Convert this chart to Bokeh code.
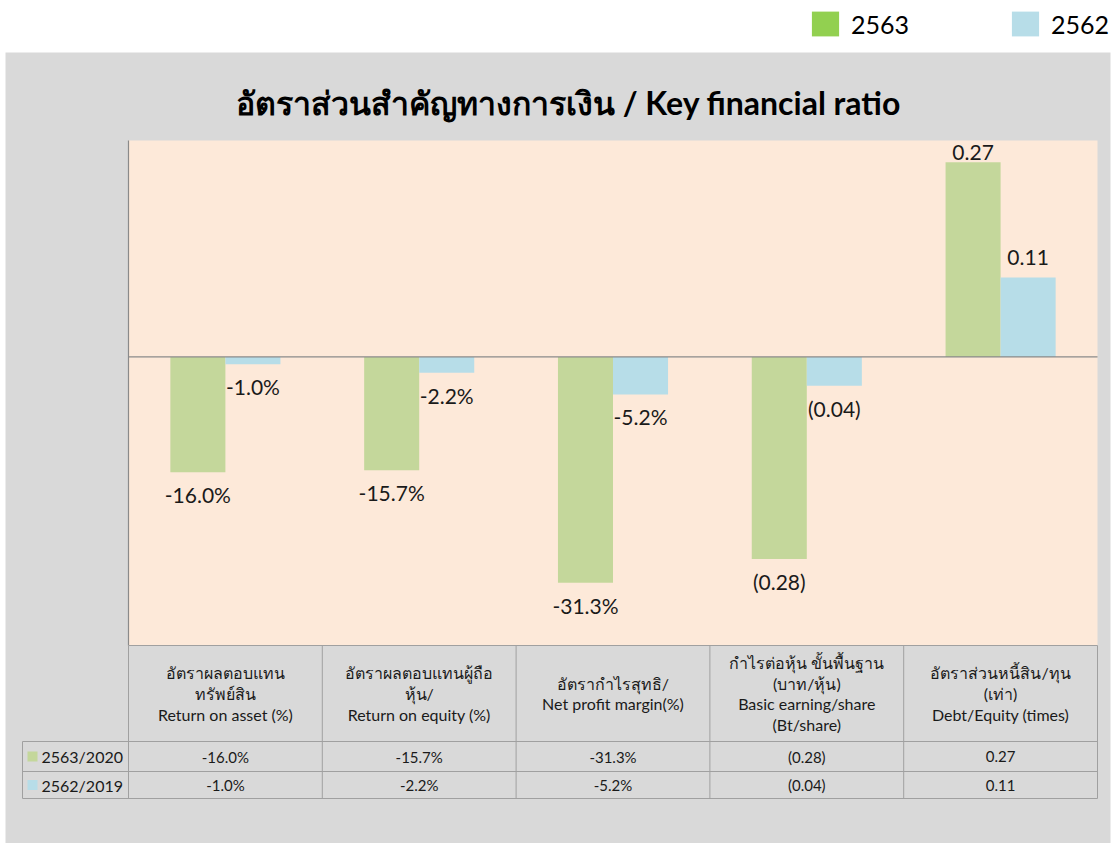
from bokeh.plotting import figure
from bokeh.models import Range1d, Legend, LegendItem, ColumnDataSource
from bokeh.embed import file_html
from bokeh.resources import INLINE
from bokeh.core.properties import value
import numpy as np

# ---------------- data ----------------
header_labels = [
    "อัตราผลตอบแทน\nทรัพย์สิน\nReturn on asset (%)",
    "อัตราผลตอบแทนผู้ถือ\nหุ้น/\nReturn on equity (%)",
    "อัตรากำไรสุทธิ/\nNet profit margin(%)",
    "กำไรต่อหุ้น ขั้นพื้นฐาน\n(บาท/หุ้น)\nBasic earning/share\n(Bt/share)",
    "อัตราส่วนหนี้สิน/ทุน\n(เท่า)\nDebt/Equity (times)",
]
legend_names = ["2563", "2562"]
row_names = ["2563/2020", "2562/2019"]
vals_2563 = [-0.160, -0.157, -0.313, -0.28, 0.27]
vals_2562 = [-0.010, -0.022, -0.052, -0.04, 0.11]
labels_2563 = ["-16.0%", "-15.7%", "-31.3%", "(0.28)", "0.27"]
labels_2562 = ["-1.0%", "-2.2%", "-5.2%", "(0.04)", "0.11"]
title_text = "อัตราส่วนสำคัญทางการเงิน / Key financial ratio"
Y_MIN, Y_MAX = -0.4, 0.3  # value-axis limits

# ---------------- styles / layout ----------------
GRAY = "#d9d9d9"
PEACH = "#fde9d9"
GREEN = "#c4d79b"
BLUE = "#b7dde8"
GREEN_LEG = "#92d050"
LINE = "#a0a0a0"
AXIS = "#8a8a8a"
TXT = "#1a1a1a"
FONT = "Lato"
W, H = 1114, 843
PLOT_L, PLOT_R, PLOT_T, PLOT_B = 128, 1097, 140, 645
n = len(vals_2563)
UNIT = (PLOT_R - PLOT_L) / n             # px per category
PXU = (PLOT_B - PLOT_T) / (Y_MAX - Y_MIN)  # px per value unit


def px2x(px):
    return (px - PLOT_L) / UNIT


xc = np.arange(n) + 0.5
bw = 0.284

p = figure(width=W, height=H,
           x_range=Range1d(px2x(0), px2x(W)),
           y_range=Range1d(Y_MIN - (H - PLOT_B) / PXU, Y_MAX + PLOT_T / PXU),
           min_border=0, x_axis_location=None, y_axis_location=None,
           output_backend="svg", toolbar_location=None)
p.extra_y_ranges = {"px": Range1d(H, 0)}
p.background_fill_color = "white"
p.border_fill_color = "white"
p.outline_line_color = None
p.grid.visible = False

# backgrounds
p.quad(left=px2x(5), right=px2x(1110), bottom=H, top=52, y_range_name="px",
       fill_color=GRAY, line_color=None)
p.quad(left=0, right=n, bottom=Y_MIN, top=Y_MAX, fill_color=PEACH, line_color=None)

# title
p.text(x=[px2x(568)], y=[102], text=[title_text], y_range_name="px",
       text_align="center", text_baseline="middle", text_font=value(FONT),
       text_font_size="32px", text_font_style="bold", text_color="black")

# bars
p.vbar(x=xc - bw / 2, top=vals_2563, bottom=0, width=bw, fill_color=GREEN, line_color=None)
p.vbar(x=xc + bw / 2, top=vals_2562, bottom=0, width=bw, fill_color=BLUE, line_color=None)

# axis lines
p.segment(x0=[0, 0], x1=[n, 0], y0=[0, Y_MIN], y1=[0, Y_MAX], line_color=AXIS, line_width=1.2)

# data labels
for offs, vals, labs in ((-bw / 2, vals_2563, labels_2563), (bw / 2, vals_2562, labels_2562)):
    base, yo = [], []
    for v in vals:
        if v < 0:
            base.append("top")
            yo.append(10)
        else:
            base.append("alphabetic")
            yo.append(-min(20.0, (Y_MAX - v) * PXU - 12))
    src = ColumnDataSource(dict(x=list(xc + offs), y=vals, t=labs, base=base, yo=yo))
    p.text(x="x", y="y", text="t", source=src, text_align="center",
           text_baseline="base", y_offset="yo", text_font=value(FONT),
           text_font_size="21px", text_color=TXT)

# ---------------- data table ----------------
xl = px2x(22)
hy = [741, 771, 798]
p.segment(x0=[0] + [xl] * 3, x1=[n] * 4, y0=[PLOT_B] + hy, y1=[PLOT_B] + hy,
          y_range_name="px", line_color=LINE, line_width=1)
p.segment(x0=list(range(n + 1)) + [xl], x1=list(range(n + 1)) + [xl],
          y0=[PLOT_B] * (n + 1) + [741], y1=[798] * (n + 2),
          y_range_name="px", line_color=LINE, line_width=1)

p.text(x=list(xc), y=[693] * n, text=header_labels, y_range_name="px",
       text_align="center", text_baseline="middle", text_font=value(FONT),
       text_font_size="16px", text_line_height=1.1, text_color=TXT)

row_y = [756, 784.5]
p.scatter(x=[px2x(32)] * 2, y=row_y, y_range_name="px", marker="square", size=10,
          fill_color=[GREEN, BLUE], line_color=None)
p.text(x=[px2x(41)] * 2, y=row_y, text=row_names, y_range_name="px", text_align="left",
       text_baseline="middle", text_font=value(FONT), text_font_size="16px",
       text_color=TXT)
for ry, labs in zip(row_y, (labels_2563, labels_2562)):
    p.text(x=list(xc), y=[ry] * n, text=labs, y_range_name="px",
           text_align="center", text_baseline="middle", text_font=value(FONT),
           text_font_size="15px", text_color=TXT)

# ---------------- legend (top right) ----------------
d1 = p.vbar(x=[px2x(-200)], top=[0], width=0.1, fill_color=GREEN_LEG, line_color=None)
d2 = p.vbar(x=[px2x(-200)], top=[0], width=0.1, fill_color=BLUE, line_color=None)
leg = Legend(items=[LegendItem(label=legend_names[0], renderers=[d1]),
                    LegendItem(label=legend_names[1], renderers=[d2])],
             orientation="horizontal", location=(808, H - 39),
             glyph_width=34, glyph_height=31, label_standoff=9, spacing=99,
             padding=0, margin=0, border_line_color=None, background_fill_alpha=0,
             label_text_font=FONT, label_text_font_size="25px", label_text_color="black",
             label_height=31)
p.add_layout(leg, "center")

open("out.html", "w").write(file_html(p, INLINE))
